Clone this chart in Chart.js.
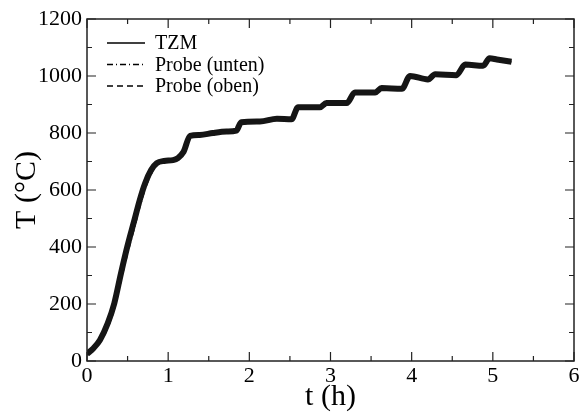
<!DOCTYPE html>
<html>
<head>
<meta charset="utf-8">
<script src="https://cdn.jsdelivr.net/npm/chart.js@4"></script>
<style>
  html, body { margin: 0; padding: 0; background: #fff; }
  canvas { display: block; }
</style>
</head>
<body>
<canvas id="chart" width="579" height="412"></canvas>
<script>
// time in hours, temperatures in degC
const times = [0, 0.08, 0.16, 0.255, 0.336, 0.419, 0.5, 0.58, 0.65, 0.715, 0.79, 0.86, 0.95, 1.06,
  1.12, 1.19, 1.27, 1.39, 1.55, 1.72, 1.84, 1.9, 2.13, 2.34, 2.52, 2.6, 2.87, 2.95, 3.2, 3.3,
  3.55, 3.63, 3.88, 3.98, 4.2, 4.29, 4.55, 4.66, 4.88, 4.96, 5.05, 5.23]
const tzm = [25, 45, 74, 132, 202, 308, 405, 490, 565, 623, 670, 694, 702, 705,
  712, 734, 790, 793, 800, 805, 808, 838, 840, 850, 848, 890, 890, 905, 905, 942,
  942, 958, 955, 1000, 988, 1006, 1003, 1040, 1036, 1062, 1058, 1050]
const probeUnten = [22, 40, 66, 118, 184, 285, 380, 465, 542, 604, 657, 688, 700, 704,
  710, 730, 786, 792, 798, 804, 806, 834, 839, 848, 847, 886, 889, 902, 904, 938,
  941, 955, 954, 996, 987, 1003, 1002, 1036, 1035, 1058, 1056, 1049]
const probeOben = [24, 43, 70, 125, 193, 296, 392, 477, 553, 613, 663, 691, 701, 705,
  711, 732, 788, 793, 799, 805, 807, 836, 840, 849, 848, 888, 890, 904, 905, 940,
  942, 957, 955, 998, 988, 1005, 1003, 1038, 1036, 1060, 1057, 1050]

const seriesNames = ['TZM', 'Probe (unten)', 'Probe (oben)']
const xTicks = [0, 1, 2, 3, 4, 5, 6]
const yTicks = [0, 200, 400, 600, 800, 1000, 1200]

const serif = 'Liberation Serif, Times New Roman, serif'

function toPoints(values) {
  return times.map((t, i) => ({ x: t, y: values[i] }))
}

// frame with inward major + minor ticks on all four sides
const frameTicks = {
  id: 'frameTicks',
  afterDatasetsDraw(chart) {
    const { ctx, chartArea: a, scales } = chart
    ctx.save()
    ctx.strokeStyle = '#222'
    ctx.lineWidth = 1.5
    ctx.strokeRect(a.left, a.top, a.right - a.left, a.bottom - a.top)
    ctx.lineWidth = 1.2
    ctx.beginPath()
    for (let v = 0; v <= 6; v += 0.5) {
      const px = scales.x.getPixelForValue(v)
      const len = Number.isInteger(v) ? 9 : 5
      ctx.moveTo(px, a.bottom); ctx.lineTo(px, a.bottom - len)
      ctx.moveTo(px, a.top); ctx.lineTo(px, a.top + len)
    }
    for (let v = 0; v <= 1200; v += 100) {
      const py = scales.y.getPixelForValue(v)
      const len = v % 200 === 0 ? 9 : 5
      ctx.moveTo(a.left, py); ctx.lineTo(a.left + len, py)
      ctx.moveTo(a.right, py); ctx.lineTo(a.right - len, py)
    }
    ctx.stroke()
    ctx.restore()
  }
}

// legend drawn inside the plot, top left
const insideLegend = {
  id: 'insideLegend',
  afterDraw(chart) {
    const { ctx, chartArea: a } = chart
    ctx.save()
    ctx.font = '20px ' + serif
    ctx.fillStyle = '#000'
    ctx.textBaseline = 'middle'
    chart.data.datasets.forEach((ds, i) => {
      const y = a.top + 24 + i * 21.5
      ctx.beginPath()
      ctx.setLineDash(ds.borderDash || [])
      ctx.lineWidth = 1.5
      ctx.strokeStyle = '#000'
      ctx.moveTo(a.left + 20, y)
      ctx.lineTo(a.left + 58, y)
      ctx.stroke()
      ctx.setLineDash([])
      ctx.fillText(ds.label, a.left + 68, y + 1)
    })
    ctx.restore()
  }
}

new Chart(document.getElementById('chart'), {
  type: 'line',
  data: {
    datasets: [
      {
        label: seriesNames[0],
        data: toPoints(tzm),
        borderColor: '#151515',
        borderWidth: 6,
        pointRadius: 0,
        cubicInterpolationMode: 'monotone'
      },
      {
        label: seriesNames[1],
        data: toPoints(probeUnten),
        borderColor: '#151515',
        borderWidth: 2,
        borderDash: [6, 3, 1, 3],
        pointRadius: 0,
        cubicInterpolationMode: 'monotone'
      },
      {
        label: seriesNames[2],
        data: toPoints(probeOben),
        borderColor: '#151515',
        borderWidth: 2,
        borderDash: [6, 4],
        pointRadius: 0,
        cubicInterpolationMode: 'monotone'
      }
    ]
  },
  options: {
    responsive: false,
    animation: false,
    devicePixelRatio: 1,
    layout: { padding: { top: 19, right: 5, left: 0, bottom: 0 } },
    plugins: {
      legend: { display: false },
      tooltip: { enabled: false }
    },
    scales: {
      x: {
        type: 'linear',
        min: 0,
        max: 6,
        afterBuildTicks(scale) { scale.ticks = xTicks.map(v => ({ value: v })) },
        afterFit(scale) { scale.height = 51; scale.paddingRight = 0; scale.paddingLeft = 0 },
        grid: { display: false, drawTicks: false },
        border: { display: false },
        ticks: { color: '#000', padding: 2, font: { family: serif, size: 22 }, callback: v => String(v) },
        title: { display: true, text: 't (h)', color: '#000', padding: 0, font: { family: serif, size: 30, lineHeight: 1 } }
      },
      y: {
        type: 'linear',
        min: 0,
        max: 1200,
        afterBuildTicks(scale) { scale.ticks = yTicks.map(v => ({ value: v })) },
        afterFit(scale) { scale.width = 87; scale.paddingTop = 0; scale.paddingBottom = 0 },
        grid: { display: false, drawTicks: false },
        border: { display: false },
        ticks: { color: '#000', padding: 5, font: { family: serif, size: 22 }, callback: v => String(v) },
        title: { display: true, text: 'T (°C)', color: '#000', padding: { top: 12, bottom: 0 }, font: { family: serif, size: 30, lineHeight: 1 } }
      }
    }
  },
  plugins: [frameTicks, insideLegend]
})
</script>
</body>
</html>
